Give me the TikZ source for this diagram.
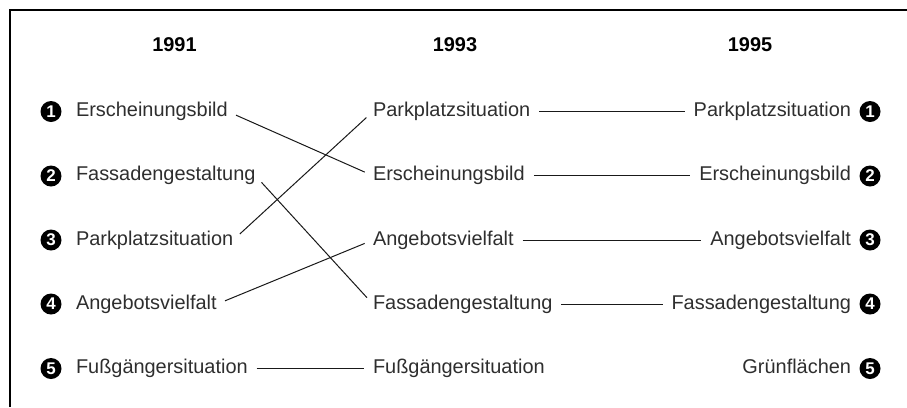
\documentclass[tikz,border=0pt]{standalone}
\usepackage{fontspec}
\setmainfont{Liberation Sans}
\begin{document}
\begin{tikzpicture}[x=1bp,y=-1bp,
  lbl/.style={font=\fontsize{20}{24}\selectfont, text=black!82, inner xsep=0pt, inner ysep=0pt, outer sep=0pt, text height=14.5bp, text depth=4.2bp},
  hdr/.style={font=\fontsize{20}{24}\selectfont\bfseries, text=black, inner sep=0pt},
  num/.style={circle, fill=black, minimum size=21bp, inner sep=0pt, text=white, font=\fontsize{17}{17}\selectfont\bfseries},
  conn/.style={line width=1bp, draw=black!90, shorten <=9bp, shorten >=9bp},
  frame/.style={line width=2bp, draw=black}]
\useasboundingbox (0,0) rectangle (907,407);
\draw[frame] (10,407) -- (10,10) -- (907,10);
% headers
\node[hdr] (h1) at (174.5,45) {1991};
\node[hdr] (h2) at (455,45) {1993};
\node[hdr] (h3) at (750,45) {1995};
% left column
\node[num] (lb1) at (51,111.5) {1};
\node[num] (lb2) at (51,176) {2};
\node[num] (lb3) at (51,240) {3};
\node[num] (lb4) at (51,304) {4};
\node[num] (lb5) at (51,368.5) {5};
\node[lbl, anchor=west] (l1) at (76,111.5) {Erscheinungsbild};
\node[lbl, anchor=west] (l2) at (76,175.75) {Fassadengestaltung};
\node[lbl, anchor=west] (l3) at (76,240) {Parkplatzsituation};
\node[lbl, anchor=west] (l4) at (76,304.25) {Angebotsvielfalt};
\node[lbl, anchor=west] (l5) at (76,368.5) {Fußgängersituation};
% middle column
\node[lbl, anchor=west] (m1) at (373,111.5) {Parkplatzsituation};
\node[lbl, anchor=west] (m2) at (373,175.75) {Erscheinungsbild};
\node[lbl, anchor=west] (m3) at (373,240) {Angebotsvielfalt};
\node[lbl, anchor=west] (m4) at (373,304.25) {Fassadengestaltung};
\node[lbl, anchor=west] (m5) at (373,368.5) {Fußgängersituation};
% right column
\node[lbl, anchor=east] (r1) at (851,111.5) {Parkplatzsituation};
\node[lbl, anchor=east] (r2) at (851,175.75) {Erscheinungsbild};
\node[lbl, anchor=east] (r3) at (851,240) {Angebotsvielfalt};
\node[lbl, anchor=east] (r4) at (851,304.25) {Fassadengestaltung};
\node[lbl, anchor=east] (r5) at (851,368.5) {Grünflächen};
\node[num] (rb1) at (870,111.5) {1};
\node[num] (rb2) at (870,176) {2};
\node[num] (rb3) at (870,240) {3};
\node[num] (rb4) at (870,304) {4};
\node[num] (rb5) at (870,368.5) {5};
% connectors 1991 -> 1993
\draw[conn] (l1.east) -- (m2.west);
\draw[conn] (l2.east) -- (m4.west);
\draw[conn] (l3.east) -- (m1.west);
\draw[conn] (l4.east) -- (m3.west);
\draw[conn] (l5.east) -- (m5.west);
% connectors 1993 -> 1995
\draw[conn] (m1.east) -- (r1.west);
\draw[conn] (m2.east) -- (r2.west);
\draw[conn] (m3.east) -- (r3.west);
\draw[conn] (m4.east) -- (r4.west);
\end{tikzpicture}
\end{document}
